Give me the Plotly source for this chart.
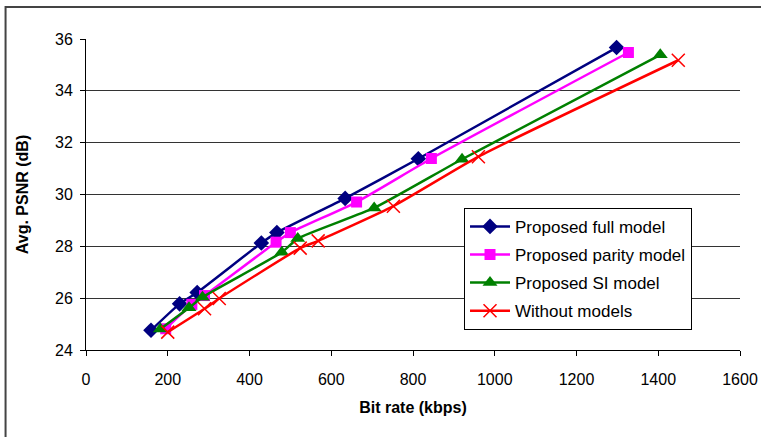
import plotly.graph_objects as go

full_x = [159, 229, 272, 429, 467, 634, 813, 1298]
full_y = [24.76, 25.78, 26.22, 28.13, 28.53, 29.85, 31.38, 35.67]

parity_x = [195, 259, 290, 465, 500, 662, 845, 1327]
parity_y = [24.82, 25.76, 26.10, 28.16, 28.53, 29.71, 31.39, 35.48]

si_x = [182, 252, 285, 479, 518, 705, 920, 1405]
si_y = [24.81, 25.63, 26.04, 27.77, 28.30, 29.48, 31.36, 35.39]

none_x = [200, 290, 326, 524, 568, 752, 960, 1449]
none_y = [24.69, 25.59, 25.99, 27.93, 28.21, 29.55, 31.46, 35.18]

names = ["Proposed full model", "Proposed parity model", "Proposed SI model", "Without models"]
colors = ["#000080", "#FF00FF", "#008000", "#FF0000"]
symbols = ["diamond", "square", "triangle-up", "x-thin"]
sizes = [12, 11, 13, 13]

fig = go.Figure()
for i, (xs, ys) in enumerate([(full_x, full_y), (parity_x, parity_y), (si_x, si_y), (none_x, none_y)]):
    marker = dict(symbol=symbols[i], size=sizes[i], color=colors[i])
    if symbols[i] == "x-thin":
        marker["line"] = dict(color=colors[i], width=1.5)
    fig.add_trace(go.Scatter(
        x=xs, y=ys, mode="lines+markers", name=names[i],
        line=dict(color=colors[i], width=2.5, shape="spline", smoothing=0.5),
        marker=marker, legendgroup=f"g{i}",
    ))

fig.update_layout(
    width=761, height=437,
    margin=dict(l=86, r=21, t=39, b=87),
    paper_bgcolor="white", plot_bgcolor="white",
    font=dict(family="Liberation Sans, Arial, sans-serif", size=16, color="black"),
    showlegend=True,
    legend=dict(
        x=0.578, y=0.457, xanchor="left", yanchor="top",
        bgcolor="white", bordercolor="black", borderwidth=1,
        font=dict(size=17), tracegroupgap=3, itemwidth=40,
    ),
    xaxis=dict(
        range=[0, 1600], tickvals=[0, 200, 400, 600, 800, 1000, 1200, 1400, 1600],
        showgrid=False, showline=True, linecolor="black", linewidth=1,
        ticks="outside", ticklen=5, tickcolor="black", ticklabelstandoff=10,
        title=dict(text="<b>Bit rate (kbps)</b>", font=dict(size=16), standoff=14),
        zeroline=False, automargin=False,
    ),
    yaxis=dict(
        range=[24, 36], tickvals=[24, 26, 28, 30, 32, 34, 36],
        showgrid=True, gridcolor="#333333", gridwidth=1,
        showline=True, linecolor="black", linewidth=1,
        ticks="outside", ticklen=5, tickcolor="black", ticklabelstandoff=4,
        title=dict(text="<b>Avg. PSNR (dB)</b>", font=dict(size=16), standoff=22),
        zeroline=False, automargin=False,
    ),
)

fig.add_shape(type="rect", xref="paper", yref="paper",
              x0=-0.123, y0=-0.35, x1=1.1, y1=1.103,
              line=dict(color="#444444", width=2), fillcolor="rgba(0,0,0,0)", layer="below")

fig.write_html("out.html")
